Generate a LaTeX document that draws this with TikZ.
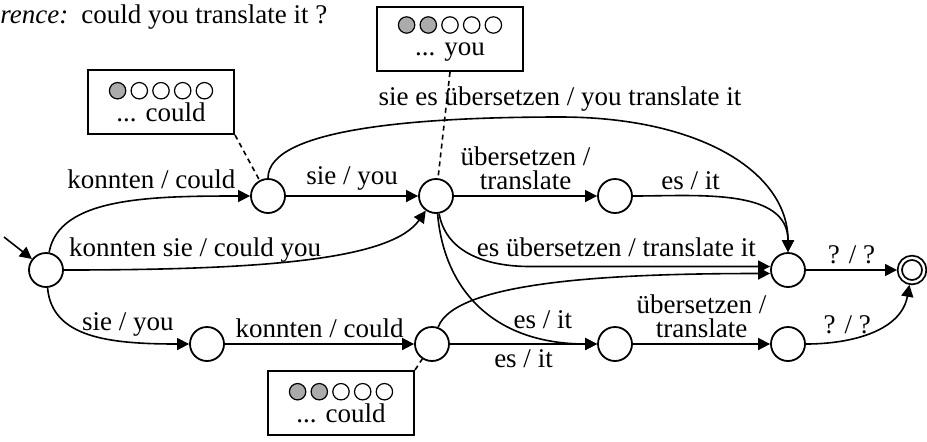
\documentclass[tikz,border=0pt]{standalone}
\usepackage{fontspec}
\setmainfont{Liberation Serif}
\usetikzlibrary{arrows.meta}
\tikzstyle{state}=[draw,circle,line width=0.9pt,minimum size=17pt,inner sep=0pt]
\tikzstyle{final}=[state,double,double distance=1.2pt,minimum size=12.2pt,outer sep=1.4pt]
\tikzstyle{trans}=[-{Triangle[length=6pt,width=6pt]},line width=0.8pt]
\tikzstyle{lbl}=[font=\fontsize{13.5}{12}\selectfont,inner sep=2.5pt,align=center]
\tikzstyle{note}=[draw,line width=1pt,lbl,minimum width=73pt,minimum height=32pt,inner sep=1pt]
\tikzstyle{link}=[dash pattern=on 2.5pt off 2pt,line width=0.8pt]
\colorlet{covcol}{black!33}
% row of five hypothesis slots, the first #1 of them covered
\newcommand{\cov}[1]{\tikz[x=1pt,y=1pt,line width=0.6pt,baseline=-3.5pt]{%
  \foreach \i in {1,...,5}{\ifnum\i>#1\relax
    \draw (10.85*\i,0) circle[radius=4.1pt];\else
    \filldraw[fill=covcol] (10.85*\i,0) circle[radius=4.1pt];\fi}}}

\begin{document}
\begin{tikzpicture}[x=0.5pt,y=0.5pt]
  \useasboundingbox (0,0) rectangle (927,-441);
  \node[lbl,inner sep=0pt,anchor=base west] (ref) at (0,-23)
    {\textit{rence:}\hspace{6.5pt}could you translate it ?};
  % states
  \node[state] (s) at (46,-270) {};
  \node[state] (n1) at (268,-196) {};
  \node[state] (n2) at (436,-196) {};
  \node[state] (n3) at (615,-196) {};
  \node[state] (n4) at (788,-270) {};
  \node[final] (fin) at (912,-270) {};
  \node[state] (n5) at (207,-344) {};
  \node[state] (n6) at (432,-344) {};
  \node[state] (n7) at (615,-344) {};
  \node[state] (n8) at (788,-344) {};
  \coordinate (init) at (4,-237);
  \coordinate (ctop) at (560,-117);
  \coordinate (cbend) at (530,-266.5);
  % hypotheses
  \node[note] (b1) at (161,-102) {\cov{1}\\... could};
  \node[note] (b2) at (450,-39) {\cov{2}\\... you};
  \node[note] (b3) at (341,-403) {\cov{2}\\... could};
  \draw[link] (b1.south east) -- (n1);
  \draw[link] (b2.south) -- (n2);
  \draw[link] (b3.north east) -- (n6);
  % transitions
  \draw[trans] (init) -- (s);
  \draw[trans] (s) to[out=80,in=180,out distance=28pt,in distance=50pt]
    node[lbl,above,pos=0.65,yshift=2pt] {konnten / could} (n1);
  \draw[trans] (s) to[out=0,in=235,out distance=100pt,in distance=30pt]
    node[lbl,above,pos=0.24] {konnten sie / could you} (n2);
  \draw[trans] (s) to[out=-85,in=180,out distance=25pt,in distance=40pt]
    node[lbl,above,pos=0.72] {sie / you} (n5);
  \draw[trans] (n1) -- node[lbl,above] {sie / you} (n2);
  \draw[trans] (n1) to[out=90,in=180,out distance=25pt,in distance=70pt] (ctop)
    to[out=0,in=90,out distance=70pt,in distance=40pt]
    node[lbl,above,pos=0] {sie es übersetzen / you translate it} (n4);
  \draw[trans] (n2) -- node[lbl,above] {übersetzen /\\translate} (n3);
  \draw[trans] (n3) to[out=0,in=90] node[lbl,above,pos=0.28] {es / it} (n4);
  \draw[trans] (n2) to[out=-80,in=180] (cbend)
    -- node[lbl,above,pos=0.36,yshift=2pt] {es übersetzen / translate it}
    ([yshift=1.75pt]n4.west);
  \draw[trans] (n2) to[out=-85,in=180,out distance=40pt,in distance=50pt]
    node[lbl,above,pos=0.8,yshift=2pt] {es / it} (n7);
  \draw[trans] (n5) -- node[lbl,above] {konnten / could} (n6);
  \draw[trans] (n6) to[out=70,in=180,out distance=25pt,in distance=75pt]
    ([yshift=-1.75pt]n4.west);
  \draw[trans] (n6) -- node[lbl,below] {es / it} (n7);
  \draw[trans] (n7) -- node[lbl,above] {übersetzen /\\translate} (n8);
  \draw[trans] (n4) -- node[lbl,above] {? / ?} (fin);
  \draw[trans] (n8) to[out=0,in=-100] node[lbl,above,pos=0.3] {? / ?} (fin);
\end{tikzpicture}
\end{document}
